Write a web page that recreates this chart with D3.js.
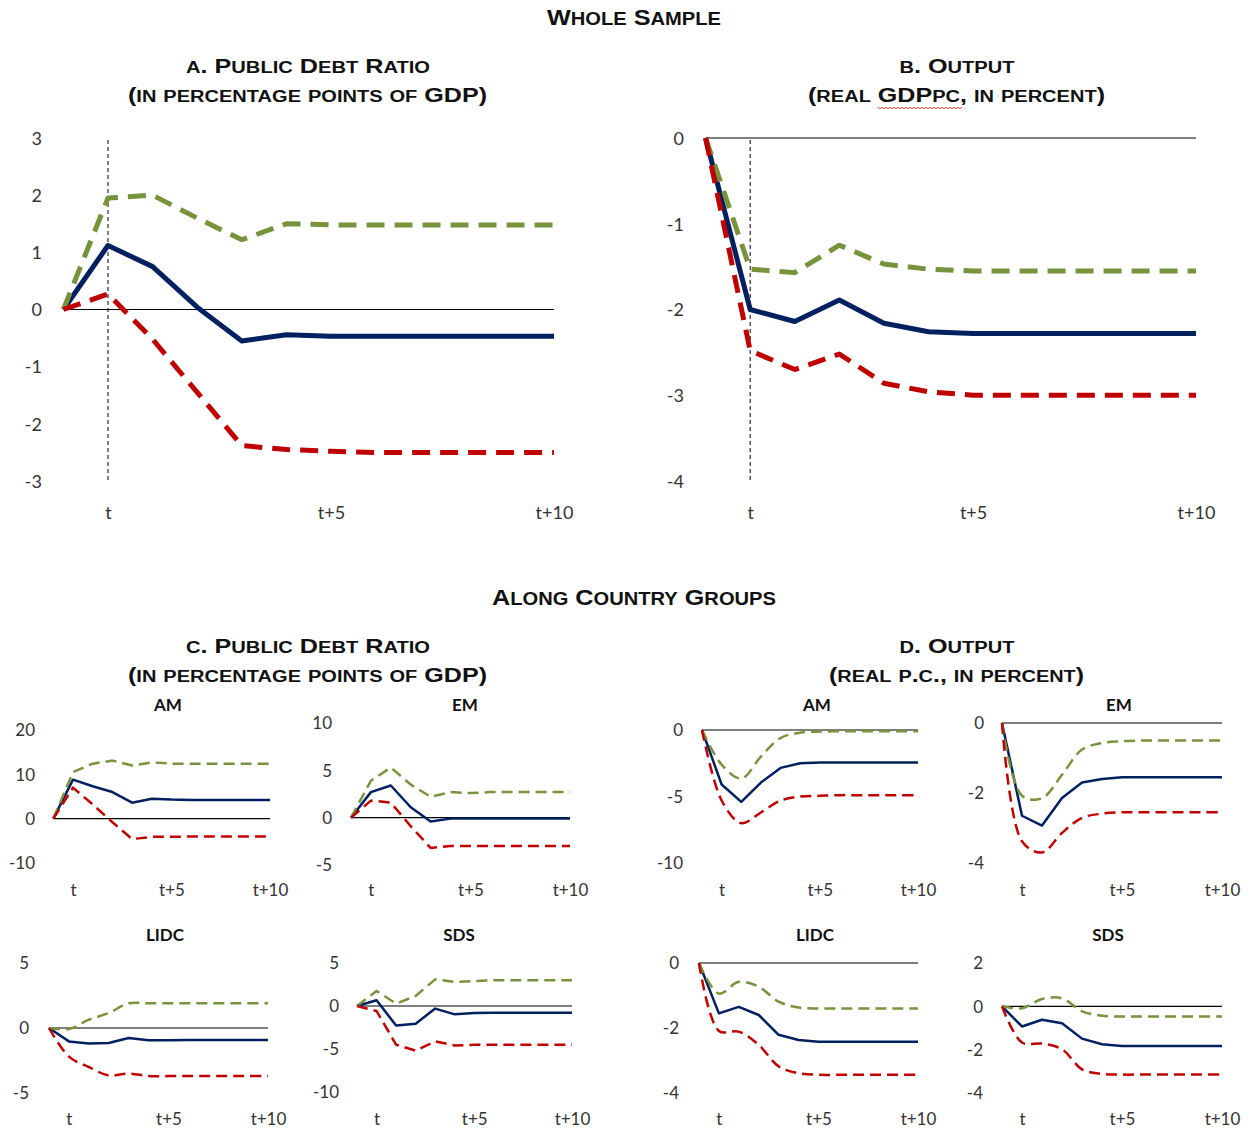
<!DOCTYPE html>
<html><head><meta charset="utf-8">
<script src="https://cdn.jsdelivr.net/npm/d3@7"></script>
<style>
body{margin:0;background:#fff}
svg{display:block}
.hd{font-family:"Liberation Sans",Arial,sans-serif;font-weight:bold;fill:#111}
.tk text{font-family:Lato,"Open Sans",sans-serif;fill:#333}
.sub{font-family:Lato,"Open Sans",sans-serif;font-weight:bold;fill:#111}
</style>
</head><body>
<svg id="c" width="1255" height="1131"></svg>
<script>
// ---------- data ----------
const periods = ["t-1","t","t+1","t+2","t+3","t+4","t+5","t+6","t+7","t+8","t+9","t+10"];
const xTickLabels = ["t","t+5","t+10"];

// A. Public debt ratio, whole sample
const aMean  = [0, 1.12, 0.75, 0.04, -0.55, -0.44, -0.47, -0.47, -0.47, -0.47, -0.47, -0.47];
const aUpper = [0, 1.95, 2.0, 1.6, 1.22, 1.5, 1.48, 1.48, 1.48, 1.48, 1.48, 1.48];
const aLower = [0, 0.27, -0.52, -1.45, -2.38, -2.45, -2.48, -2.5, -2.5, -2.5, -2.5, -2.5];
const aTicks = [-3, -2, -1, 0, 1, 2, 3];

// B. Output, whole sample
const bMean  = [0, -2.0, -2.14, -1.89, -2.16, -2.26, -2.28, -2.28, -2.28, -2.28, -2.28, -2.28];
const bUpper = [0, -1.53, -1.57, -1.25, -1.47, -1.53, -1.55, -1.55, -1.55, -1.55, -1.55, -1.55];
const bLower = [0, -2.48, -2.7, -2.52, -2.86, -2.96, -3.0, -3.0, -3.0, -3.0, -3.0, -3.0];
const bTicks = [-4, -3, -2, -1, 0];

// C. Public debt ratio by group
const cAmMean  = [0, 8.8, 7.3, 6.0, 3.6, 4.5, 4.3, 4.2, 4.2, 4.2, 4.2, 4.2];
const cAmUpper = [0, 10.5, 12.4, 13.1, 12.0, 12.7, 12.4, 12.4, 12.4, 12.4, 12.4, 12.4];
const cAmLower = [0, 7.0, 3.2, -0.8, -4.6, -4.1, -4.1, -4.0, -4.0, -4.0, -4.0, -4.0];
const cAmTicks = [-10, 0, 10, 20];

const cEmMean  = [0, 2.7, 3.4, 1.1, -0.4, -0.1, -0.1, -0.1, -0.1, -0.1, -0.1, -0.1];
const cEmUpper = [0, 3.9, 5.3, 3.5, 2.2, 2.7, 2.6, 2.7, 2.7, 2.7, 2.7, 2.7];
const cEmLower = [0, 1.8, 1.6, -0.9, -3.2, -3.0, -3.0, -3.0, -3.0, -3.0, -3.0, -3.0];
const cEmTicks = [-5, 0, 5, 10];

const cLidcMean  = [0, -1.03, -1.2, -1.15, -0.77, -0.95, -0.95, -0.92, -0.92, -0.92, -0.92, -0.92];
const cLidcUpper = [0, -0.08, 0.64, 1.15, 1.9, 1.9, 1.9, 1.9, 1.9, 1.9, 1.9, 1.9];
const cLidcLower = [0, -2.2, -3.0, -3.65, -3.5, -3.7, -3.7, -3.7, -3.7, -3.7, -3.7, -3.7];
const cLidcTicks = [-5, 0, 5];

const cSdsMean  = [0, 0.66, -2.26, -2.06, -0.3, -0.97, -0.8, -0.78, -0.78, -0.78, -0.78, -0.78];
const cSdsUpper = [0, 1.75, 0.27, 1.17, 3.1, 2.8, 2.9, 3.0, 3.0, 3.0, 3.0, 3.0];
const cSdsLower = [0, -0.58, -4.5, -5.2, -4.1, -4.6, -4.5, -4.5, -4.5, -4.5, -4.5, -4.5];
const cSdsTicks = [-10, -5, 0, 5];

// D. Output by group
const dAmMean  = [0, -4.1, -5.4, -3.95, -2.85, -2.5, -2.45, -2.45, -2.45, -2.45, -2.45, -2.45];
const dAmUpper = [0, -2.6, -3.65, -2.0, -0.6, -0.2, -0.12, -0.1, -0.1, -0.1, -0.1, -0.1];
const dAmLower = [0, -5.3, -7.0, -6.2, -5.3, -5.0, -4.95, -4.9, -4.9, -4.9, -4.9, -4.9];
const dAmTicks = [-10, -5, 0];

const dEmMean  = [0, -2.65, -2.93, -2.14, -1.7, -1.6, -1.55, -1.55, -1.55, -1.55, -1.55, -1.55];
const dEmUpper = [0, -2.08, -2.15, -1.48, -0.76, -0.57, -0.52, -0.5, -0.5, -0.5, -0.5, -0.5];
const dEmLower = [0, -3.38, -3.7, -3.14, -2.71, -2.59, -2.55, -2.55, -2.55, -2.55, -2.55, -2.55];
const dEmTicks = [-4, -2, 0];

const dLidcMean  = [0, -1.55, -1.35, -1.6, -2.21, -2.37, -2.42, -2.42, -2.42, -2.42, -2.42, -2.42];
const dLidcUpper = [0, -0.94, -0.58, -0.73, -1.19, -1.37, -1.4, -1.4, -1.4, -1.4, -1.4, -1.4];
const dLidcLower = [0, -2.09, -2.11, -2.52, -3.18, -3.39, -3.44, -3.44, -3.44, -3.44, -3.44, -3.44];
const dLidcTicks = [-4, -2, 0];

const dSdsMean  = [0, -0.93, -0.62, -0.78, -1.49, -1.75, -1.83, -1.83, -1.83, -1.83, -1.83, -1.83];
const dSdsUpper = [0, -0.09, 0.34, 0.37, -0.23, -0.43, -0.47, -0.47, -0.47, -0.47, -0.47, -0.47];
const dSdsLower = [0, -1.67, -1.72, -1.98, -2.91, -3.12, -3.15, -3.15, -3.15, -3.15, -3.15, -3.15];
const dSdsTicks = [-4, -2, 0, 2];

// ---------- drawing ----------
const svg = d3.select("#c");
const COLORS = {mean:"#002060", upper:"#77933C", lower:"#C00000"};

// small-caps heading: lowercase letters rendered as smaller capitals
function heading(txt, cx, y, size, len){
  const t = svg.append("text").attr("class","hd").attr("x",cx).attr("y",y)
    .attr("text-anchor","middle").style("font-size",size+"px");
  const runs = [];
  for(const ch of txt){
    const small = ch !== ch.toUpperCase();
    if(runs.length && runs[runs.length-1].small === small) runs[runs.length-1].s += ch;
    else runs.push({small, s:ch});
  }
  runs.forEach(r=>{
    t.append("tspan").style("font-size",(r.small ? size*0.8 : size)+"px")
      .text(r.small ? r.s.toUpperCase() : r.s);
  });
  if(len) t.attr("textLength",len).attr("lengthAdjust","spacingAndGlyphs");
  return t;
}

heading("Whole Sample", 634, 25, 22, 174);
heading("a. Public Debt Ratio", 308, 73, 21, 244);
heading("(in percentage points of GDP)", 307.5, 102, 21, 359);
heading("b. Output", 957, 73, 21, 115);
const gdpT = heading("(real GDPpc, in percent)", 956.5, 102, 21, 297);
heading("Along Country Groups", 634, 605, 22, 284);
heading("c. Public Debt Ratio", 308, 653, 21, 244);
heading("(in percentage points of GDP)", 307.5, 682, 21, 359);
heading("d. Output", 957, 653, 21, 115);
heading("(real p.c., in percent)", 956.5, 682, 21, 255);

// spell-check squiggle under "GDPpc"
(function(){
  const n = gdpT.node();
  const a = n.getExtentOfChar(6), b = n.getExtentOfChar(10);
  const x0 = a.x, x1 = b.x + b.width, yy = a.y + a.height + 1;
  let d = "M" + x0 + "," + yy;
  for(let x = x0, k = 0; x < x1; x += 2, k++) d += "L" + (x+2) + "," + (yy + (k%2 ? 0 : 2));
  svg.append("path").attr("d",d).attr("fill","none").attr("stroke","#e02020").attr("stroke-width",0.9);
})();

function panel(o){
  const g = svg.append("g");
  const x = d3.scalePoint().domain(periods).range([o.x0, o.x1]);
  const y = d3.scaleLinear().domain(o.dom).range([o.yBot, o.yTop]);

  // y tick labels
  const ya = g.append("g").attr("class","tk").attr("transform",`translate(${o.lab},0)`)
    .call(d3.axisLeft(y).tickValues(o.ticks).tickSize(0).tickPadding(0).tickFormat(d=>String(d)));
  ya.select(".domain").remove();
  ya.selectAll("text").style("font-size",o.fs+"px").attr("dy","0.35em").attr("x",0);

  // x tick labels
  const xa = g.append("g").attr("class","tk").attr("transform",`translate(0,${o.xLab})`)
    .call(d3.axisBottom(x).tickValues(xTickLabels).tickSize(0).tickPadding(0));
  xa.select(".domain").remove();
  xa.selectAll("text").style("font-size",o.fs+"px").attr("y",0).attr("dy","0.35em");

  // zero line
  g.append("line").attr("x1",x("t-1")).attr("x2",x("t+10"))
    .attr("y1",y(0)).attr("y2",y(0)).attr("stroke","#000").attr("stroke-width",1.2);

  // vertical dashed marker at t
  if(o.vline){
    g.append("line").attr("x1",x("t")).attr("x2",x("t"))
      .attr("y1",o.yTop+2).attr("y2",o.yBot).attr("stroke","#000")
      .attr("stroke-width",1).attr("stroke-dasharray","4,3");
  }

  const series = [["mean",o.mean],["upper",o.upper],["lower",o.lower]];
  series.forEach(([k,vals])=>{
    const curve = k==="mean" ? o.curveMean : o.curveBand;
    const line = d3.line().x((d,i)=>x(periods[i])).y(d=>y(d)).curve(curve);
    g.append("path").datum(vals).attr("d",line).attr("fill","none")
      .attr("stroke",COLORS[k]).attr("stroke-width",o.lw)
      .attr("stroke-linejoin","round")
      .attr("stroke-dasharray", k==="mean" ? null : o.dash);
  });

  if(o.title){
    g.append("text").attr("class","sub").attr("x",o.tx).attr("y",o.ty)
      .attr("text-anchor","middle").style("font-size","17px").text(o.title);
  }
}

const LIN = d3.curveLinear, SMOOTH = d3.curveCatmullRom.alpha(0.5);
const big = {lw:5, dash:"18,10", fs:18, vline:true, xLab:513, yTop:138, yBot:481};
const sm  = {lw:2.5, dash:"11,6", fs:17, vline:false};

panel(Object.assign({}, big, {x0:63.4, x1:554, dom:[-3,3], ticks:aTicks, lab:42,
  mean:aMean, upper:aUpper, lower:aLower, curveMean:LIN, curveBand:LIN}));
panel(Object.assign({}, big, {x0:705.6, x1:1196, dom:[-4,0], ticks:bTicks, lab:684,
  mean:bMean, upper:bUpper, lower:bLower, curveMean:LIN, curveBand:LIN}));

panel(Object.assign({}, sm, {x0:53.3, x1:270, dom:[-10,20], ticks:cAmTicks, lab:35, yTop:730, yBot:863, xLab:890,
  mean:cAmMean, upper:cAmUpper, lower:cAmLower, curveMean:LIN, curveBand:LIN, title:"AM", tx:168, ty:711}));
panel(Object.assign({}, sm, {x0:351, x1:570, dom:[-5,10], ticks:cEmTicks, lab:332, yTop:723, yBot:865, xLab:890,
  mean:cEmMean, upper:cEmUpper, lower:cEmLower, curveMean:LIN, curveBand:LIN, title:"EM", tx:465, ty:711}));
panel(Object.assign({}, sm, {x0:702, x1:918, dom:[-10,0], ticks:dAmTicks, lab:683, yTop:730, yBot:863, xLab:890,
  mean:dAmMean, upper:dAmUpper, lower:dAmLower, curveMean:LIN, curveBand:SMOOTH, title:"AM", tx:817, ty:711}));
panel(Object.assign({}, sm, {x0:1002, x1:1222, dom:[-4,0], ticks:dEmTicks, lab:984, yTop:723, yBot:863, xLab:890,
  mean:dEmMean, upper:dEmUpper, lower:dEmLower, curveMean:LIN, curveBand:SMOOTH, title:"EM", tx:1119, ty:711}));

panel(Object.assign({}, sm, {x0:49, x1:268, dom:[-5,5], ticks:cLidcTicks, lab:29, yTop:963, yBot:1093, xLab:1119,
  mean:cLidcMean, upper:cLidcUpper, lower:cLidcLower, curveMean:LIN, curveBand:SMOOTH, title:"LIDC", tx:165, ty:941}));
panel(Object.assign({}, sm, {x0:357, x1:572, dom:[-10,5], ticks:cSdsTicks, lab:339, yTop:963, yBot:1092, xLab:1119,
  mean:cSdsMean, upper:cSdsUpper, lower:cSdsLower, curveMean:LIN, curveBand:LIN, title:"SDS", tx:459, ty:941}));
panel(Object.assign({}, sm, {x0:699, x1:918, dom:[-4,0], ticks:dLidcTicks, lab:679, yTop:963, yBot:1093, xLab:1119,
  mean:dLidcMean, upper:dLidcUpper, lower:dLidcLower, curveMean:LIN, curveBand:SMOOTH, title:"LIDC", tx:815, ty:941}));
panel(Object.assign({}, sm, {x0:1002, x1:1222, dom:[-4,2], ticks:dSdsTicks, lab:983, yTop:963, yBot:1093, xLab:1119,
  mean:dSdsMean, upper:dSdsUpper, lower:dSdsLower, curveMean:LIN, curveBand:SMOOTH, title:"SDS", tx:1108, ty:941}));
</script>
</body></html>
